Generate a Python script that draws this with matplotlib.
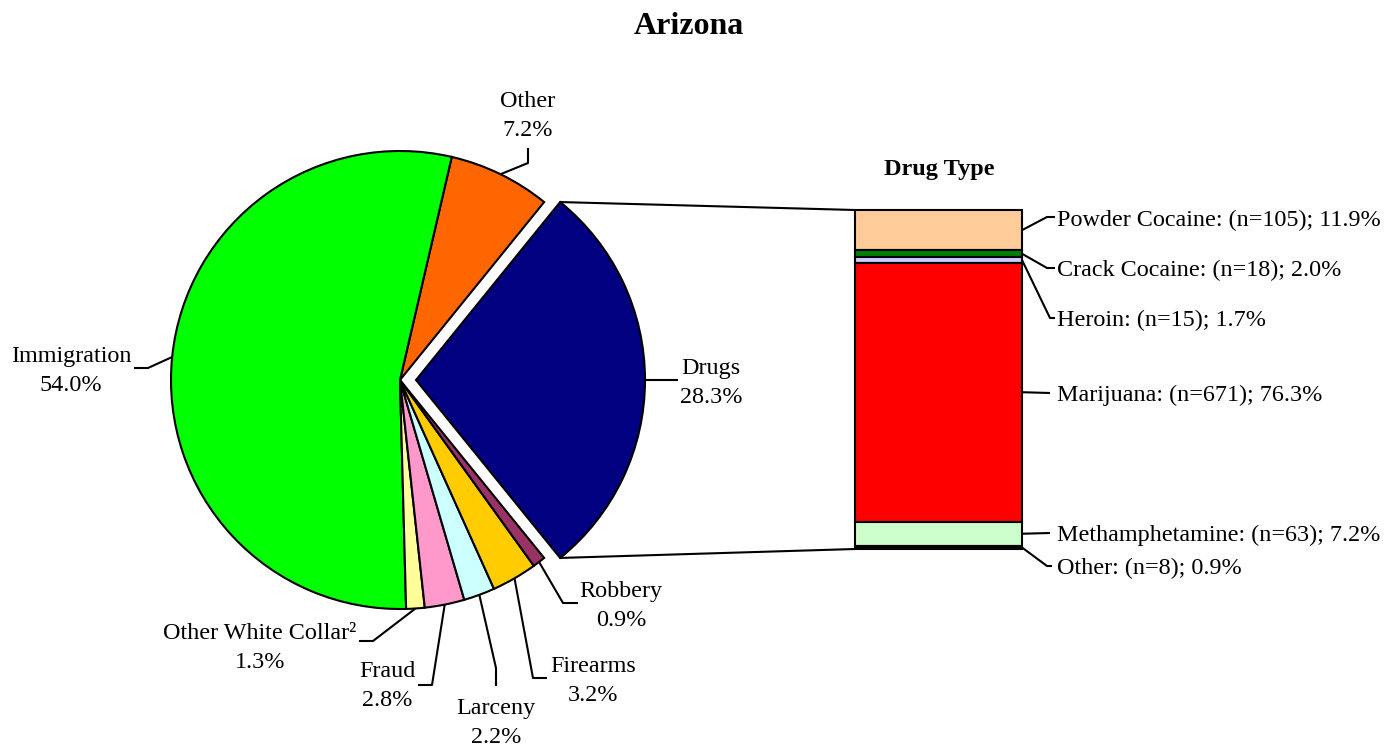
import numpy as np
import matplotlib
matplotlib.use("Agg")
import matplotlib.pyplot as plt
from matplotlib.patches import ConnectionPatch

plt.rcParams['font.family'] = ['Liberation Serif', 'DejaVu Serif']

W, H = 1396, 745

# offense categories (counter-clockwise, starting with the exploded Drugs slice)
offenses = ["Drugs", "Other", "Immigration", "Other White Collar\u00b2",
            "Fraud", "Larceny", "Firearms", "Robbery"]
offense_pct = [28.3, 7.2, 54.0, 1.3, 2.8, 2.2, 3.2, 0.9]
offense_colors = ["#000080", "#FF6600", "#00FF00", "#FFFF99",
                  "#FF99CC", "#CCFFFF", "#FFCC00", "#993366"]

# drug types, top to bottom
drugs = ["Powder Cocaine", "Crack Cocaine", "Heroin", "Marijuana",
         "Methamphetamine", "Other"]
drug_n = [105, 18, 15, 671, 63, 8]
drug_pct = [11.9, 2.0, 1.7, 76.3, 7.2, 0.9]
drug_colors = ["#FFCC99", "#008000", "#CCCCFF", "#FF0000", "#CCFFCC", "#000000"]


def py(y):
    # pixel row (from top) -> data y
    return H - y


fig = plt.figure(figsize=(W / 100, H / 100), dpi=100)
ax = fig.add_axes([0, 0, 1, 1])

start = -offense_pct[0] / sum(offense_pct) * 360 / 2
explode = [16] + [0] * (len(offense_pct) - 1)   # data units (pixels)
wedges, _ = ax.pie(offense_pct, colors=offense_colors, startangle=start,
                   counterclock=True, center=(400, py(380)), radius=229,
                   explode=explode,
                   wedgeprops=dict(edgecolor="black", linewidth=1.5))
ax.set_xlim(0, W)
ax.set_ylim(0, H)
ax.set_aspect("auto")
ax.axis("off")

FS = 17.4
LS = 1.45
DY = 2  # small downward nudge for text

# pie labels: (text centre, leader points after the edge point) in pixels
pie_layout = {
    "Drugs": ((711, 381), [(678, 380)]),
    "Other": ((528, 114), [(528, 163), (528, 148)]),
    "Immigration": ((71, 369), [(148, 368), (134, 368)]),
    "Other White Collar\u00b2": ((260, 646), [(373, 641), (359, 641)]),
    "Fraud": ((387, 684), [(432, 685), (418, 685)]),
    "Larceny": ((496, 721), [(496, 668), (496, 686)]),
    "Firearms": ((593, 679), [(533, 678), (547, 678)]),
    "Robbery": ((621, 604), [(563, 603), (578, 603)]),
}

for w, name, pct in zip(wedges, offenses, offense_pct):
    mid = np.deg2rad((w.theta1 + w.theta2) / 2)
    cx, cy = w.center
    sx, sy = cx + w.r * np.cos(mid), cy + w.r * np.sin(mid)
    (tx, ty), pts = pie_layout[name]
    xs = [sx] + [p[0] for p in pts]
    ys = [sy] + [py(p[1]) for p in pts]
    ax.plot(xs, ys, color="black", lw=1.5, solid_capstyle="butt")
    ax.text(tx, py(ty + DY), f"{name}\n{pct:.1f}%", ha="center", va="center",
            fontsize=FS, linespacing=LS)

# stacked bar
bx0, bx1, by0, by1 = 855, 1022, 210, 549
axb = fig.add_axes([bx0 / W, (H - by1) / H, (bx1 - bx0) / W, (by1 - by0) / H])
bottom = 0
bottoms = []
for pct in drug_pct[::-1]:
    bottoms.append(bottom)
    bottom += pct
bottoms = bottoms[::-1]
bars = axb.bar([0] * len(drug_pct), drug_pct, bottom=bottoms, width=1,
               color=drug_colors, edgecolor="black", linewidth=1.5)
for b in bars:
    b.set_clip_on(False)
axb.set_xlim(-0.5, 0.5)
axb.set_ylim(0, sum(drug_pct))
axb.axis("off")

# connectors from drugs wedge to bar
dw = wedges[0]
cx, cy = dw.center
for ang, ybar in [(dw.theta2, sum(drug_pct)), (dw.theta1, 0)]:
    a = np.deg2rad(ang)
    con = ConnectionPatch(xyA=(cx + dw.r * np.cos(a), cy + dw.r * np.sin(a)),
                          coordsA=ax.transData, xyB=(-0.5, ybar),
                          coordsB=axb.transData, color="black", lw=1.5)
    fig.add_artist(con)

# bar labels
bar_layout = [
    (218, [(1047, 217), (1055, 217)]),
    (268, [(1047, 268), (1055, 268)]),
    (318, [(1050, 318), (1055, 318)]),
    (393, [(1050, 393)]),
    (533, [(1050, 533)]),
    (566, [(1047, 566), (1052, 566)]),
]
to_main = ax.transData.inverted()
for name, n, pct, b0, (ty, pts) in zip(drugs, drug_n, drug_pct, bottoms,
                                       bar_layout):
    sx, sy = to_main.transform(axb.transData.transform((0.5, b0 + pct / 2)))
    xs = [sx] + [p[0] for p in pts]
    ys = [sy] + [py(p[1]) for p in pts]
    ax.plot(xs, ys, color="black", lw=1.5, solid_capstyle="butt")
    ax.text(1057, py(ty + DY), f"{name}: (n={n}); {pct:.1f}%", ha="left",
            va="center", fontsize=FS)

ax.text(689, py(25 + DY), "Arizona", ha="center", va="center", fontsize=23,
        fontweight="bold")
ax.text(939, py(168 + DY), "Drug Type", ha="center", va="center",
        fontsize=17.5, fontweight="bold")

fig.savefig("out.png", dpi=100)
